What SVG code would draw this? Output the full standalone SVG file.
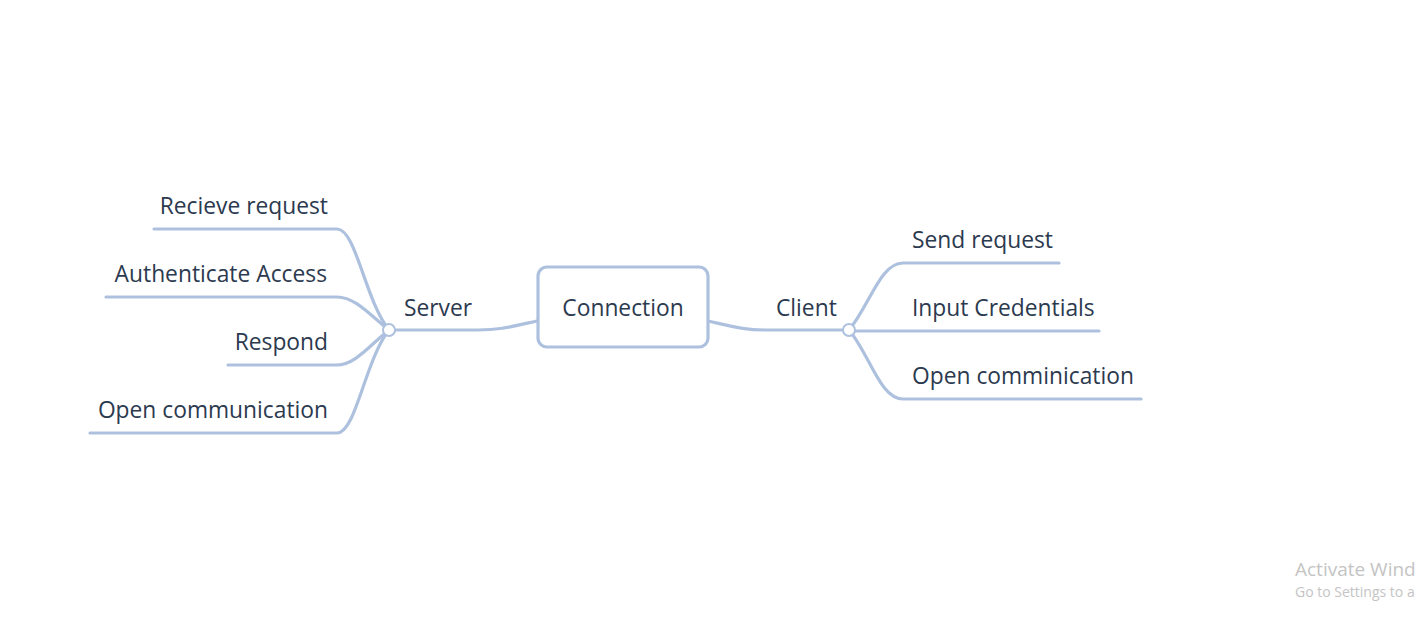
<svg xmlns="http://www.w3.org/2000/svg" width="1417" height="617" viewBox="0 0 1417 617">
<style>
.ln{fill:none;stroke:#adc1df;stroke-width:3.2;stroke-linecap:round}
.t{font-family:"Open Sans","Noto Sans",sans-serif;font-size:22.8px;fill:#2c3a4f}
.wm{font-family:"Open Sans","Noto Sans",sans-serif;fill:#c4c4c4}
</style>
<rect width="1417" height="617" fill="#ffffff"/>
<g id="connectors">
<path class="ln" d="M537,321 C510,327 500,330 478,330 L395,330"/>
<path class="ln" d="M708,321 C735,327 745,330 765,330 L843,330"/>
<path class="ln" d="M389,330 C365,300 356,229 337,229 L154,229"/>
<path class="ln" d="M389,330 C370,315 355,297 337,297 L106,297"/>
<path class="ln" d="M389,330 C370,345 355,365 337,365 L228,365"/>
<path class="ln" d="M389,330 C365,360 356,433 337,433 L90,433"/>
<path class="ln" d="M849,330 C870,305 880,263 903,263 L1059,263"/>
<path class="ln" d="M855,331 L1099,331"/>
<path class="ln" d="M849,330 C870,355 880,399 903,399 L1141,399"/>
</g>
<g id="connection">
<rect x="538" y="267" width="170" height="80" rx="9" fill="#ffffff" stroke="#adc1df" stroke-width="3.2"/>
<text class="t" x="623" y="316" text-anchor="middle">Connection</text>
</g>
<g id="server">
<text class="t" x="404" y="316">Server</text>
<circle cx="389" cy="330" r="6" fill="#ffffff" stroke="#adc1df" stroke-width="2"/>
</g>
<g id="client">
<text class="t" x="776" y="316">Client</text>
<circle cx="849" cy="330" r="6" fill="#ffffff" stroke="#adc1df" stroke-width="2"/>
</g>
<g id="recieve-request"><text class="t" x="328" y="214" text-anchor="end">Recieve request</text></g>
<g id="authenticate-access"><text class="t" x="327" y="282" text-anchor="end">Authenticate Access</text></g>
<g id="respond"><text class="t" x="328" y="350" text-anchor="end">Respond</text></g>
<g id="open-communication"><text class="t" x="328" y="418" text-anchor="end">Open communication</text></g>
<g id="send-request"><text class="t" x="912" y="248">Send request</text></g>
<g id="input-credentials"><text class="t" x="912" y="316">Input Credentials</text></g>
<g id="open-comminication"><text class="t" x="912" y="384">Open comminication</text></g>
<g id="watermark">
<text class="wm" x="1295" y="576" font-size="19">Activate Wind</text>
<text class="wm" x="1295" y="597" font-size="14">Go to Settings to a</text>
</g>
</svg>
